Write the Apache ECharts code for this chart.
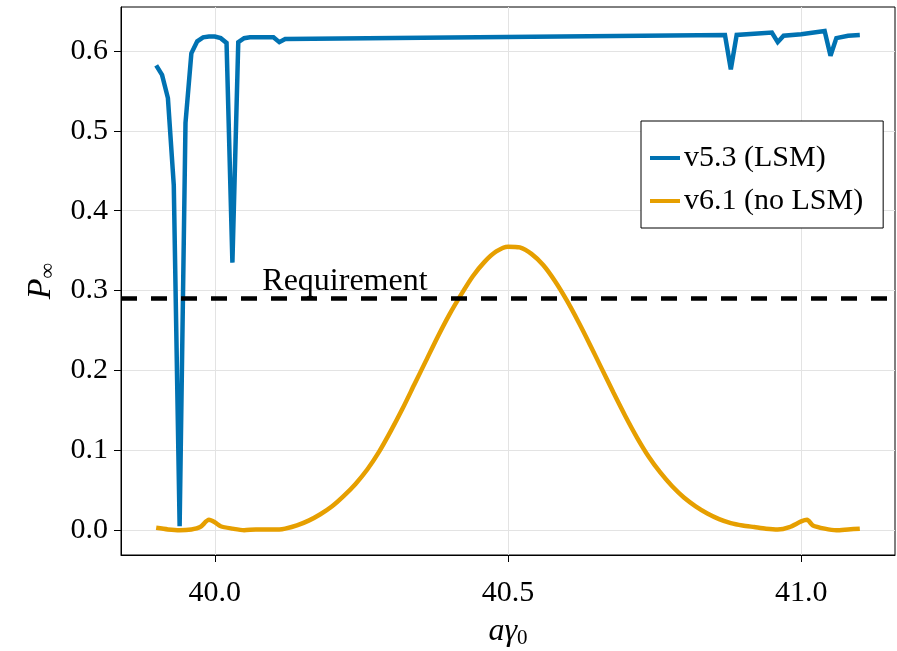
<!DOCTYPE html>
<html>
<head>
<meta charset="utf-8">
<script src="https://cdn.jsdelivr.net/npm/echarts@6/dist/echarts.min.js"></script>
<style>
  html, body { margin: 0; padding: 0; background: #fff; }
  #main { width: 897px; height: 651px; }
</style>
</head>
<body>
<div id="main"></div>
<script>
// v5.3 (LSM)
var lsmX = [39.90, 39.91, 39.92, 39.93, 39.94, 39.95, 39.96, 39.97, 39.98, 39.99,
            40.00, 40.01, 40.02, 40.03, 40.04, 40.05, 40.06, 40.08, 40.10, 40.11,
            40.12, 40.87, 40.88, 40.89, 40.95, 40.96, 40.97, 41.00, 41.04, 41.05,
            41.06, 41.08, 41.10];
var lsmY = [0.582, 0.570, 0.541, 0.432, 0.005, 0.510, 0.597, 0.612, 0.617, 0.618,
            0.618, 0.616, 0.610, 0.335, 0.611, 0.616, 0.617, 0.617, 0.617, 0.611,
            0.615, 0.620, 0.577, 0.620, 0.623, 0.611, 0.619, 0.621, 0.625, 0.594,
            0.616, 0.619, 0.620];

// v6.1 (no LSM)
var noLsmX = [39.90, 39.92, 39.94, 39.96, 39.975, 39.99, 40.00, 40.01, 40.03, 40.05,
              40.07, 40.09, 40.11, 40.12, 40.14, 40.16, 40.18, 40.20, 40.22, 40.24,
              40.26, 40.28, 40.30, 40.32, 40.34, 40.36, 40.38, 40.40, 40.42, 40.44,
              40.46, 40.48, 40.50, 40.52, 40.54, 40.56, 40.58, 40.60, 40.62, 40.64,
              40.66, 40.68, 40.70, 40.72, 40.74, 40.76, 40.78, 40.80, 40.82, 40.84,
              40.86, 40.88, 40.90, 40.92, 40.94, 40.96, 40.98, 41.00, 41.01, 41.02,
              41.04, 41.06, 41.08, 41.10];
var noLsmY = [0.003, 0.001, 0.000, 0.001, 0.004, 0.013, 0.010, 0.005, 0.002, 0.000,
              0.001, 0.001, 0.001, 0.002, 0.006, 0.012, 0.020, 0.030, 0.043, 0.058,
              0.076, 0.098, 0.124, 0.152, 0.182, 0.212, 0.242, 0.270, 0.295, 0.318,
              0.336, 0.349, 0.355, 0.354, 0.346, 0.332, 0.312, 0.288, 0.261, 0.232,
              0.202, 0.172, 0.143, 0.116, 0.092, 0.072, 0.055, 0.041, 0.030, 0.021,
              0.014, 0.009, 0.006, 0.004, 0.002, 0.001, 0.004, 0.011, 0.013, 0.006,
              0.002, 0.000, 0.001, 0.002];

var requirement = 0.29;
var xTicks = [40.0, 40.5, 41.0];
var yTicks = [0.0, 0.1, 0.2, 0.3, 0.4, 0.5, 0.6];

var FONT = 'Liberation Serif';

function pairs(xs, ys) {
    return xs.map(function (x, i) { return [x, ys[i]]; });
}

var chart = echarts.init(document.getElementById('main'), null, { renderer: 'canvas' });

var option = {
    backgroundColor: '#fff',
    animation: false,
    textStyle: { fontFamily: FONT },
    grid: {
        left: 121, right: 2, top: 7, bottom: 96,
        show: true, borderColor: '#000', borderWidth: 1,
        outerBoundsMode: 'none'
    },
    legend: {
        orient: 'vertical',
        left: 641, top: 121,
        padding: [22, 20, 12, 9],
        itemGap: 13,
        itemWidth: 30,
        itemHeight: 4,
        icon: 'rect',
        borderColor: '#000',
        borderWidth: 1,
        backgroundColor: '#fff',
        textStyle: { fontFamily: FONT, fontSize: 30, color: '#000', padding: [0, 0, 0, -1] },
        data: ['v5.3 (LSM)', 'v6.1 (no LSM)']
    },
    xAxis: {
        type: 'value',
        min: 39.84, max: 41.16,
        name: '{i|aγ}{s|0}',
        nameLocation: 'middle',
        nameGap: 59,
        nameTextStyle: {
            rich: {
                i: { fontFamily: FONT, fontStyle: 'italic', fontSize: 32, color: '#000' },
                s: { fontFamily: FONT, fontSize: 21, color: '#000', padding: [14, 0, 0, 0] }
            }
        },
        axisLine: { show: true, onZero: false, lineStyle: { color: '#000', width: 1 } },
        axisTick: { show: true, inside: false, length: 7, customValues: xTicks, lineStyle: { color: '#000' } },
        axisLabel: {
            customValues: xTicks, margin: 23,
            fontFamily: FONT, fontSize: 30, color: '#000',
            formatter: function (v) { return v.toFixed(1); }
        },
        splitLine: { show: true, lineStyle: { color: '#e3e3e3', width: 1 } }
    },
    yAxis: {
        type: 'value',
        min: -0.031, max: 0.655,
        name: '{i|P}{s|∞}',
        nameLocation: 'middle',
        nameGap: 62,
        nameRotate: 90,
        nameTextStyle: {
            rich: {
                i: { fontFamily: FONT, fontStyle: 'italic', fontSize: 34, color: '#000' },
                s: { fontFamily: FONT, fontSize: 22, color: '#000', padding: [14, 0, 0, 0] }
            }
        },
        axisLine: { show: true, onZero: false, lineStyle: { color: '#000', width: 1 } },
        axisTick: { show: true, inside: false, length: 7, customValues: yTicks, lineStyle: { color: '#000' } },
        axisLabel: {
            customValues: yTicks, margin: 13,
            fontFamily: FONT, fontSize: 30, color: '#000',
            formatter: function (v) { return v.toFixed(1); }
        },
        splitLine: { show: true, lineStyle: { color: '#e3e3e3', width: 1 } }
    },
    series: [
        {
            name: 'v5.3 (LSM)',
            type: 'line',
            data: pairs(lsmX, lsmY),
            showSymbol: false,
            symbol: 'none',
            color: '#0072B2',
            lineStyle: { color: '#0072B2', width: 4.5, join: 'miter', miterLimit: 3 },
            z: 3
        },
        {
            name: 'v6.1 (no LSM)',
            type: 'line',
            data: pairs(noLsmX, noLsmY),
            showSymbol: false,
            symbol: 'none',
            smooth: 0.25,
            color: '#E69F00',
            lineStyle: { color: '#E69F00', width: 4.5 },
            z: 3,
            markLine: {
                silent: true,
                symbol: ['none', 'none'],
                label: { show: false },
                lineStyle: { color: '#000', width: 4.5, type: [16, 14] },
                data: [{ yAxis: requirement }]
            }
        }
    ]
};

chart.setOption(option);

// "Requirement" annotation placed through the axes
var pos = chart.convertToPixel({ gridIndex: 0 }, [40.081, requirement + 0.021]);
chart.setOption({
    graphic: [{
        type: 'text',
        x: pos[0], y: pos[1],
        z: 10,
        style: {
            text: 'Requirement',
            fontFamily: FONT, fontSize: 32, fill: '#000',
            textAlign: 'left', textVerticalAlign: 'middle'
        }
    }]
});
</script>
</body>
</html>
